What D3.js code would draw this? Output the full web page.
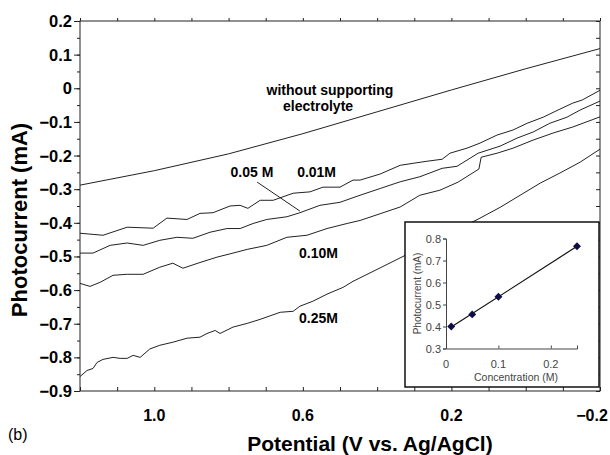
<!DOCTYPE html>
<html>
<head>
<meta charset="utf-8">
<script src="https://cdn.jsdelivr.net/npm/d3@7"></script>
<style>
  body { margin: 0; background: #fff; }
  svg { display: block; font-family: "Liberation Sans", Arial, sans-serif; }
</style>
</head>
<body>
<svg id="chart" width="610" height="455"></svg>
<script>
// potential (V vs Ag/AgCl) and photocurrent (mA)
const noElectrolyteV = [1.2, 1.0, 0.8, 0.6, 0.4, 0.2, 0.0, -0.2];
const noElectrolyteI = [-0.288, -0.245, -0.195, -0.135, -0.07, -0.005, 0.058, 0.118];

const c001V = [1.2, 1.138, 1.073, 1.003, 0.966, 0.912, 0.877, 0.842, 0.796, 0.769, 0.748, 0.715, 0.68, 0.626, 0.581, 0.546, 0.5, 0.465, 0.446, 0.392, 0.338, 0.303, 0.266, 0.225, 0.204, 0.158, 0.123, 0.077, 0.034, -0.004, -0.047, -0.092, -0.127, -0.152, -0.2];
const c001I = [-0.431, -0.437, -0.413, -0.416, -0.386, -0.39, -0.372, -0.37, -0.35, -0.348, -0.357, -0.333, -0.333, -0.312, -0.308, -0.294, -0.294, -0.273, -0.273, -0.255, -0.229, -0.223, -0.217, -0.211, -0.193, -0.178, -0.163, -0.139, -0.124, -0.104, -0.086, -0.062, -0.044, -0.035, -0.006];

const c005V = [1.2, 1.165, 1.119, 1.073, 1.03, 0.985, 0.939, 0.896, 0.85, 0.804, 0.769, 0.734, 0.697, 0.643, 0.608, 0.554, 0.5, 0.446, 0.392, 0.338, 0.285, 0.225, 0.185, 0.128, 0.069, 0.023, -0.02, -0.065, -0.111, -0.146, -0.2];
const c005I = [-0.49, -0.49, -0.467, -0.46, -0.467, -0.452, -0.443, -0.446, -0.428, -0.417, -0.417, -0.402, -0.39, -0.382, -0.37, -0.348, -0.339, -0.318, -0.298, -0.278, -0.263, -0.238, -0.232, -0.193, -0.172, -0.148, -0.13, -0.104, -0.086, -0.065, -0.038];

const c010V = [1.2, 1.173, 1.146, 1.111, 1.073, 1.03, 0.985, 0.95, 0.923, 0.877, 0.831, 0.788, 0.75, 0.697, 0.643, 0.589, 0.535, 0.481, 0.446, 0.392, 0.338, 0.285, 0.231, 0.182, 0.126, 0.12, 0.077, 0.034, -0.02, -0.074, -0.127, -0.2];
const c010I = [-0.58, -0.589, -0.577, -0.556, -0.553, -0.553, -0.532, -0.52, -0.535, -0.518, -0.502, -0.49, -0.479, -0.467, -0.443, -0.437, -0.417, -0.402, -0.393, -0.373, -0.353, -0.318, -0.303, -0.279, -0.24, -0.205, -0.193, -0.178, -0.154, -0.133, -0.115, -0.085];

const c025V = [1.2, 1.181, 1.165, 1.154, 1.138, 1.111, 1.092, 1.073, 1.057, 1.038, 1.012, 0.985, 0.95, 0.912, 0.877, 0.858, 0.836, 0.823, 0.788, 0.75, 0.715, 0.661, 0.626, 0.608, 0.573, 0.535, 0.492, 0.465, 0.392, 0.285, 0.204, 0.128, 0.069, 0.015, -0.039, -0.092, -0.146, -0.2];
const c025I = [-0.857, -0.839, -0.833, -0.815, -0.806, -0.8, -0.803, -0.803, -0.794, -0.8, -0.775, -0.764, -0.755, -0.743, -0.74, -0.729, -0.72, -0.729, -0.71, -0.699, -0.687, -0.666, -0.663, -0.648, -0.633, -0.612, -0.592, -0.574, -0.534, -0.475, -0.43, -0.389, -0.354, -0.318, -0.282, -0.252, -0.22, -0.181];

const curveLabels = ['without supporting', 'electrolyte', '0.05 M', '0.01M', '0.10M', '0.25M'];
const curveLabelV = [0.527, 0.559, 0.737, 0.563, 0.558, 0.558];
const curveLabelI = [-0.02, -0.068, -0.264, -0.264, -0.505, -0.699];

const xTickLabels = [1.0, 0.6, 0.2, -0.2];

// inset: photocurrent magnitude vs concentration
const concentration = [0.01, 0.05, 0.10, 0.25];
const photocurrent = [0.40, 0.455, 0.535, 0.765];

const svg = d3.select('#chart');

const x = d3.scaleLinear().domain([1.2, -0.2]).range([80, 600]);
const y = d3.scaleLinear().domain([-0.9, 0.2]).range([391, 21]);

const ink = '#222';

// axes
svg.append('g')
    .attr('transform', `translate(0,${y(-0.9)})`)
    .call(d3.axisBottom(x).tickValues(d3.range(-2, 13).map(d => d / 10)).tickSize(-4).tickFormat(''))
    .call(g => g.select('.domain').remove());
svg.append('g')
    .attr('transform', `translate(0,${y(0.2)})`)
    .call(d3.axisTop(x).tickValues(d3.range(-2, 13).map(d => d / 10)).tickSize(3).tickFormat(''))
    .call(g => g.select('.domain').remove());
svg.append('g')
    .attr('transform', `translate(${x(1.2)},0)`)
    .call(d3.axisLeft(y).tickValues(d3.range(-18, 5).map(d => d / 20)).tickSize(3).tickFormat(''))
    .call(g => g.select('.domain').remove());
svg.append('g')
    .attr('transform', `translate(${x(1.2)},0)`)
    .call(d3.axisLeft(y).tickValues(d3.range(-9, 3).map(d => d / 10)).tickSize(6).tickFormat(''))
    .call(g => g.select('.domain').remove());
svg.append('g')
    .attr('transform', `translate(${x(-0.2)},0)`)
    .call(d3.axisRight(y).tickValues(d3.range(-18, 5).map(d => d / 20)).tickSize(-4).tickFormat(''))
    .call(g => g.select('.domain').remove());
svg.selectAll('.tick line').attr('stroke', ink);

svg.append('rect')
    .attr('x', x(1.2)).attr('y', y(0.2))
    .attr('width', x(-0.2) - x(1.2)).attr('height', y(-0.9) - y(0.2))
    .attr('fill', 'none').attr('stroke', ink).attr('stroke-width', 1);

// tick labels
svg.append('g').selectAll('text')
    .data(d3.range(-9, 3).map(d => d / 10))
    .join('text')
    .attr('x', 72).attr('y', d => y(d) + 6)
    .attr('text-anchor', 'end')
    .attr('font-size', 16.5).attr('font-weight', 'bold')
    .text(d => d === 0 ? '0' : d3.format('.1f')(d));

svg.append('g').selectAll('text')
    .data(xTickLabels)
    .join('text')
    .attr('x', d => d === -0.2 ? x(d) - 8 : x(d))
    .attr('y', 421)
    .attr('text-anchor', 'middle')
    .attr('font-size', 16).attr('font-weight', 'bold')
    .text(d => d3.format('.1f')(d));

// axis titles
svg.append('text')
    .attr('transform', 'translate(27,220) rotate(-90)')
    .attr('text-anchor', 'middle')
    .attr('font-size', 22).attr('font-weight', 'bold')
    .text('Photocurrent (mA)');
svg.append('text')
    .attr('x', 370).attr('y', 451)
    .attr('text-anchor', 'middle')
    .attr('font-size', 21).attr('font-weight', 'bold')
    .text('Potential (V vs. Ag/AgCl)');
svg.append('text')
    .attr('x', 8).attr('y', 440)
    .attr('font-size', 16)
    .text('(b)');

// curves
const series = [
    [noElectrolyteV, noElectrolyteI],
    [c001V, c001I],
    [c005V, c005I],
    [c010V, c010I],
    [c025V, c025I]
];
const line = d3.line().x(d => x(d[0])).y(d => y(d[1]));
svg.append('g')
    .selectAll('path')
    .data(series.map(([vs, is]) => vs.map((v, i) => [v, is[i]])))
    .join('path')
    .attr('d', line)
    .attr('fill', 'none')
    .attr('stroke', ink)
    .attr('stroke-width', 1);

// curve labels
svg.append('g').selectAll('text')
    .data(curveLabels)
    .join('text')
    .attr('x', (d, i) => x(curveLabelV[i]))
    .attr('y', (d, i) => y(curveLabelI[i]))
    .attr('text-anchor', 'middle')
    .attr('font-size', 14).attr('font-weight', 'bold')
    .text(d => d);

svg.append('line')
    .attr('x1', x(0.723)).attr('y1', y(-0.279))
    .attr('x2', x(0.608)).attr('y2', y(-0.365))
    .attr('stroke', ink).attr('stroke-width', 1);

// inset
const inset = svg.append('g');
inset.append('rect')
    .attr('x', 405).attr('y', 222).attr('width', 194).attr('height', 165)
    .attr('fill', '#fff').attr('stroke', '#111').attr('stroke-width', 1.5);

const ix = d3.scaleLinear().domain([0, 0.25]).range([446, 577]);
const iy = d3.scaleLinear().domain([0.3, 0.8]).range([348.5, 238.5]);
const grey = '#444';

inset.append('g')
    .attr('transform', `translate(0,${iy(0.3)})`)
    .call(d3.axisBottom(ix).tickValues([0, 0.1, 0.2]).tickSize(-3).tickFormat(''))
    .call(g => g.select('.domain').attr('stroke', grey));
inset.append('g')
    .attr('transform', `translate(${ix(0)},0)`)
    .call(d3.axisLeft(iy).ticks(5).tickSize(3).tickFormat(''))
    .call(g => g.select('.domain').attr('stroke', grey));
inset.selectAll('.tick line').attr('stroke', grey);

inset.append('g').selectAll('text')
    .data([0, 0.1, 0.2])
    .join('text')
    .attr('x', d => ix(d)).attr('y', 368)
    .attr('text-anchor', 'middle')
    .attr('font-size', 11).attr('fill', grey)
    .text(d => d === 0 ? '0' : d3.format('.1f')(d));
inset.append('g').selectAll('text')
    .data(iy.ticks(5))
    .join('text')
    .attr('x', 441).attr('y', d => iy(d) + 4)
    .attr('text-anchor', 'end')
    .attr('font-size', 11).attr('fill', grey)
    .text(d => d3.format('.1f')(d));
inset.append('text')
    .attr('x', 516).attr('y', 381)
    .attr('text-anchor', 'middle')
    .attr('font-size', 10.5).attr('fill', grey)
    .text('Concentration (M)');
inset.append('text')
    .attr('transform', `translate(421,${iy(0.55)}) rotate(-90)`)
    .attr('text-anchor', 'middle')
    .attr('font-size', 10).attr('fill', grey)
    .text('Photocurrent (mA)');

// least-squares line through the inset points
const mx = d3.mean(concentration);
const my = d3.mean(photocurrent);
const slope = d3.sum(concentration, (c, i) => (c - mx) * (photocurrent[i] - my)) /
    d3.sum(concentration, c => (c - mx) ** 2);
const intercept = my - slope * mx;
const c0 = concentration[0];
const c1 = concentration[concentration.length - 1];
inset.append('line')
    .attr('x1', ix(c0)).attr('y1', iy(intercept + slope * c0))
    .attr('x2', ix(c1)).attr('y2', iy(intercept + slope * c1))
    .attr('stroke', '#111').attr('stroke-width', 1.2);

inset.append('g').selectAll('path')
    .data(concentration)
    .join('path')
    .attr('transform', (d, i) => `translate(${ix(d)},${iy(photocurrent[i])})`)
    .attr('d', d3.symbol(d3.symbolDiamond2, 40))
    .attr('fill', '#0d0d4a');
</script>
</body>
</html>
